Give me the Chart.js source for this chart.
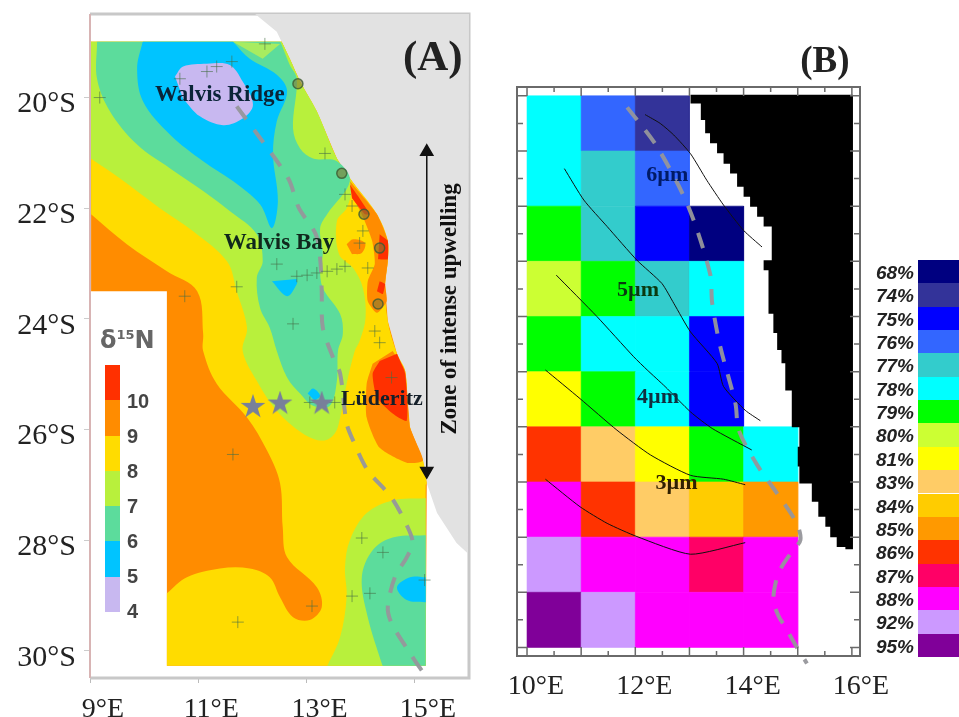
<!DOCTYPE html>
<html>
<head>
<meta charset="utf-8">
<title>Benguela maps</title>
<script src="https://cdn.jsdelivr.net/npm/chart.js@4"></script>
<style>
    body { margin: 0; background: #fff; }
    canvas { position: absolute; left: 0; top: 0; filter: blur(0.4px); }
    .bar { position: absolute; left: 105px; top: 365px; width: 15px; height: 247px; filter: blur(0.7px); }
    .barLabel { position: absolute; left: 127px; width: 30px; font: 700 20px 'Liberation Sans'; color: #444; line-height: 20px; filter: blur(0.4px); }
    .delta { position: absolute; left: 100px; top: 326px; font: 700 24px 'DejaVu Sans'; color: #666; filter: blur(0.5px); }
    .delta sup { font-size: 13px; vertical-align: 9px; line-height: 0; }
    .row { position: absolute; left: 860px; width: 99px; height: 23.35px; }
    .row span { position: absolute; right: 45px; top: 1px; font: italic 700 19px 'Liberation Sans'; color: #222; line-height: 23px; }
    .row i { position: absolute; left: 58px; right: 0; top: 0; bottom: 0; }
</style>
</head>
<body>
<canvas id="mapA" width="959" height="717"></canvas>
<canvas id="mapB" width="959" height="717"></canvas>
<div class="delta" id="delta">&delta;<sup>15</sup>N</div>
<div class="bar" id="bar"></div>

<script>
// panel A: contour polygons as [lon, lat]; near-duplicate points keep the domain corners sharp when smoothed
const coastA = [[12.54,-18.99],[12.69,-19.30],[12.88,-19.71],[13.19,-20.25],[13.56,-21.10],[13.80,-21.46],[14.30,-22.11],[14.50,-22.59],[14.50,-22.96],[14.45,-23.37],[14.50,-24.04],[14.67,-24.63],[14.82,-24.94],[14.91,-25.96],[15.15,-26.56],[15.22,-26.97]]
const landA = [[12.05,-18.49],[12.45,-18.81],...coastA.slice(1),[15.41,-27.51],[15.77,-28.05],[15.98,-28.24],[16,-18.49]]
const orangeBase = [[9.02,-18.99],...coastA,[15.20,-30.27],[10.42,-30.27],[10.42,-23.50],[9.02,-23.50]]
const yellowEdge = [[10.42,-28.96],[10.79,-28.67],[11.40,-28.51],[11.95,-28.51],[12.32,-28.67],[12.51,-29.03],[12.75,-29.39],[13.06,-29.44],[13.28,-29.21],[13.19,-28.85],[12.64,-28.31],[12.56,-27.77],[12.51,-26.97],[12.27,-26.38],[11.90,-25.78],[11.34,-25.17],[11.09,-24.58],[11.09,-24.27],[10.98,-23.50],[10.42,-23.14],[9.68,-22.65],[9.02,-22.11]]
const yellowBase = [[9.02,-19.00],[9.02,-18.99],[9.03,-18.99],[12.53,-18.99],...coastA,[15.22,-26.98],[15.20,-27.00],[15.20,-30.26],[15.20,-30.27],[15.19,-30.27],[10.43,-30.27],[10.42,-30.27],[10.42,-30.26],[10.42,-28.97],...yellowEdge,[9.02,-22.10]]
const yellowSliver = [[13.19,-20.31],[13.38,-20.85],[13.21,-20.83],[13.10,-20.49]]
const lime = [[9.02,-19.00],[9.02,-18.99],[9.03,-18.99],[12.53,-18.99],[12.54,-18.99],[12.69,-19.30],[12.88,-19.71],[13.19,-20.25],[13.56,-21.10],[13.80,-21.46],[13.84,-21.64],[13.74,-22.00],[13.56,-22.23],[13.60,-22.83],[13.86,-23.08],[14.04,-23.44],[14.09,-23.98],[13.98,-24.40],[13.89,-24.58],[13.74,-25.17],[13.62,-25.78],[13.52,-26.07],[13.30,-26.20],[12.93,-26.07],[12.45,-25.66],[12.08,-25.12],[11.82,-24.58],[11.90,-24.16],[11.71,-23.50],[11.53,-22.96],[10.90,-22.41],[10.29,-22.00],[9.55,-21.46],[9.03,-21.11],[9.02,-21.10],[9.02,-21.09]]
const limeSouth = [[15.20,-27.25],[15.20,-27.24],[15.19,-27.24],[14.59,-27.28],[14.11,-27.51],[13.80,-28.00],[13.71,-28.49],[13.74,-29.03],[13.62,-29.75],[13.39,-30.26],[13.38,-30.27],[13.39,-30.27],[15.19,-30.27],[15.20,-30.27],[15.20,-30.26]]
const limePatch = [[11.64,-18.99],[12.19,-19.30],[12.51,-19.03]]
const green = [[9.12,-18.99],[9.13,-18.99],[9.13,-19.00],[9.13,-19.66],[9.37,-20.25],[9.87,-20.85],[10.48,-21.28],[11.09,-21.69],[11.58,-22.05],[12.08,-22.47],[12.19,-22.96],[12.08,-23.26],[12.14,-23.80],[12.32,-24.16],[12.45,-24.58],[12.64,-25.06],[12.88,-25.35],[13.12,-25.57],[13.43,-25.57],[13.56,-25.12],[13.58,-24.58],[13.67,-24.27],[13.62,-23.91],[13.30,-23.44],[13.25,-23.08],[13.30,-22.83],[13.25,-22.36],[13.38,-22.11],[13.80,-21.51],[13.56,-21.15],[13.12,-21.10],[12.88,-20.92],[12.75,-20.56],[12.82,-19.66],[12.69,-19.41],[12.52,-19.00],[12.51,-18.99],[12.50,-18.99]]
const greenSouth = [[15.20,-27.92],[15.20,-27.91],[15.19,-27.91],[14.59,-27.95],[14.22,-28.18],[14.02,-28.67],[14.13,-29.39],[14.40,-30.26],[14.41,-30.27],[14.42,-30.27],[15.19,-30.27],[15.20,-30.27],[15.20,-30.26]]
const blue = [[9.97,-18.99],[9.98,-18.99],[9.97,-19.00],[9.87,-19.48],[9.98,-20.07],[10.48,-20.67],[11.09,-21.15],[11.64,-21.51],[12.14,-21.93],[12.36,-22.36],[12.47,-21.87],[12.38,-21.03],[12.45,-20.43],[12.64,-19.89],[12.45,-19.59],[11.95,-19.30],[11.65,-19.00],[11.64,-18.99],[11.63,-18.99]]
const blueBay = [[12.36,-23.32],[12.64,-23.59],[12.82,-23.37],[12.82,-23.28]]
const blueLuderitz = [[13.02,-25.35],[13.12,-25.26],[13.25,-25.39],[13.15,-25.48]]
const blueSouth = [[15.20,-28.68],[15.20,-28.67],[15.19,-28.67],[14.91,-28.67],[14.67,-28.85],[14.85,-29.08],[15.19,-29.12],[15.20,-29.12],[15.20,-29.11]]
const lavender = [[10.57,-19.62],[10.72,-19.44],[11.16,-19.39],[11.58,-19.41],[11.82,-19.71],[12.01,-20.13],[11.82,-20.38],[11.46,-20.50],[11.03,-20.34],[10.72,-20.02]]
const orangeNorth = [[13.80,-21.51],[14.30,-22.11],[14.50,-22.59],[14.50,-22.96],[14.45,-23.37],[14.48,-23.68],[14.30,-23.89],[14.13,-23.68],[14.13,-23.32],[14.26,-23.01],[14.21,-22.59],[14.02,-22.11],[13.86,-21.82]]
const orangeBlob = [[13.74,-22.65],[13.86,-22.56],[14.08,-22.63],[14.02,-22.81],[13.84,-22.83]]
const orangeSouth = [[14.59,-24.58],[14.82,-24.94],[14.91,-25.96],[15.15,-26.56],[14.85,-26.60],[14.35,-26.33],[14.11,-25.78],[14.11,-25.17],[14.22,-24.81]]
const redSouth = [[14.67,-24.63],[14.82,-24.99],[14.85,-25.84],[14.59,-25.71],[14.30,-25.42],[14.22,-24.99],[14.35,-24.76]]
const redNorth1 = [[13.80,-21.57],[13.95,-21.78],[14.17,-22.11],[14.08,-22.11],[13.84,-21.82]]
const redNorth2 = [[14.35,-22.47],[14.50,-22.59],[14.50,-22.92],[14.32,-22.92]]
const redNorth3 = [[14.35,-23.32],[14.45,-23.37],[14.41,-23.55],[14.30,-23.50]]
const shelfA = [[11.71,-20.16],[12.08,-20.65],[12.66,-21.46],[12.86,-22.00],[13.17,-22.47],[13.25,-22.90],[13.28,-23.50],[13.30,-24.16],[13.49,-24.70],[13.62,-24.99],[13.74,-25.89],[13.86,-26.20],[14.13,-26.74],[14.57,-27.23],[14.87,-27.77],[14.96,-28.05],[14.85,-28.31],[14.63,-28.67],[14.50,-29.21],[14.57,-29.50],[14.91,-30.04],[15.18,-30.43]]
const samples = [[12.23,-19.03],[9.18,-20.00],[10.66,-19.66],[11.16,-19.53],[11.34,-19.44],[11.62,-19.35],[13.34,-21.01],[13.71,-21.75],[13.84,-21.96],[14.04,-22.41],[13.98,-22.63],[14.13,-23.08],[14.26,-24.22],[14.35,-24.43],[12.45,-23.01],[12.82,-23.23],[13.01,-23.21],[13.19,-23.17],[13.38,-23.14],[13.56,-23.10],[13.71,-23.05],[11.71,-23.42],[10.75,-23.59],[12.75,-24.09],[11.64,-26.45],[14.57,-25.06],[11.73,-29.48],[13.10,-29.19],[13.84,-29.01],[14.17,-28.96],[14.02,-27.96],[14.41,-28.22],[15.18,-28.72],[13.06,-25.51],[13.52,-25.51]]
const circles = [[12.84,-19.75],[13.65,-21.37],[14.06,-22.11],[14.35,-22.72],[14.32,-23.73]]
const stars = [[12.01,-25.59],[12.51,-25.53],[13.28,-25.53]]
const arrowA = [[15.22,-20.98],[15.22,-26.75]]
const xTicksA = [9, 11, 13, 15]
const yTicksA = [-20, -22, -24, -26, -28, -30]
const barValues = [4, 5, 6, 7, 8, 9, 10]
const barColors = ['#c8b8f0', '#00c4ff', '#5cdc9c', '#b8f03c', '#ffdc00', '#ff8c00', '#ff3000']

// panel B: coccolith percentages per 1 degree cell, north to south, from 10E
const cellRows = [
    [78, 76, 74],
    [78, 77, 76],
    [79, 77, 75, 68],
    [80, 79, 77, 78],
    [79, 78, 78, 75],
    [81, 79, 78, 75],
    [86, 83, 81, 79, 78],
    [88, 86, 83, 84, 85],
    [92, 88, 88, 87, 88],
    [95, 92, 88, 88, 88],
]
const percentLabels = [68, 74, 75, 76, 77, 78, 79, 80, 81, 83, 84, 85, 86, 87, 88, 92, 95]
const percentColors = ['#000080', '#333399', '#0000ff', '#3366ff', '#33cccc', '#00ffff', '#00ff00', '#ccff33', '#ffff00', '#ffcc66', '#ffcc00', '#ff9900', '#ff3300', '#ff0066', '#ff00ff', '#cc99ff', '#800099']
const coastLonB = [13.02,13.21,13.29,13.38,13.51,13.63,13.75,13.88,14.00,14.12,14.25,14.37,14.52,14.37,14.46,14.55,14.62,14.70,14.77,14.89,15.03,15.00,15.03,15.26,15.38,15.51,15.60,15.72,15.88]
const coastLatB = [-20.14,-20.44,-20.68,-20.86,-21.04,-21.23,-21.41,-21.65,-21.83,-22.01,-22.19,-22.37,-22.98,-23.16,-23.95,-24.30,-24.61,-24.85,-25.34,-26.01,-26.36,-26.72,-27.03,-27.36,-27.63,-27.81,-28.00,-28.18,-28.22]
const size6 = [[12.18,-20.34],[12.46,-20.50],[12.71,-20.71],[13.02,-21.05],[13.32,-21.53],[13.63,-21.98],[14.00,-22.44],[14.34,-22.74]]
const size5 = [[10.69,-21.32],[11.05,-21.89],[11.48,-22.37],[12.03,-22.98],[12.49,-23.40],[12.71,-23.76],[13.02,-24.28],[13.51,-24.85],[13.63,-25.27],[14.03,-25.70],[14.31,-25.89]]
const size4 = [[10.54,-23.25],[11.29,-24.00],[11.97,-24.73],[12.22,-24.97],[12.55,-25.27],[13.02,-25.73],[13.42,-26.03],[14.15,-26.42]]
const size3 = [[10.34,-24.97],[10.98,-25.49],[11.66,-26.06],[12.28,-26.51],[13.02,-26.88],[13.63,-26.95],[14.03,-27.05]]
const size2 = [[10.34,-26.95],[10.98,-27.45],[11.48,-27.75],[12.03,-27.99],[13.02,-28.31],[14.03,-28.10]]
const shelfB = [[11.85,-20.21],[12.40,-20.92],[12.98,-22.01],[13.38,-23.22],[13.42,-23.76],[13.57,-24.55],[13.85,-25.58],[13.91,-26.06],[14.25,-26.69],[14.62,-27.21],[14.98,-27.75],[15.05,-28.05],[14.89,-28.27],[14.74,-28.48],[14.62,-28.72],[14.55,-29.14],[14.65,-29.44],[14.77,-29.63],[14.98,-29.99],[15.17,-30.29]]
const xLabelsB = [10, 12, 14, 16]
const xMajorB = [10, 11, 12, 13, 14, 15, 16]
const xMinorB = [10.5, 11.5, 12.5, 13.5, 14.5, 15.5]
const yMajorB = [-20, -21, -22, -23, -24, -25, -26, -27, -28, -29, -30]
const yMinorB = [-20.5, -21.5, -22.5, -23.5, -24.5, -25.5, -26.5, -27.5, -28.5, -29.5]

const labelsA = [
    { text: '(A)', lon: 15.33, lat: -19.30, font: '700 43px "Liberation Serif"', color: '#222' },
    { text: 'Walvis Ridge', lon: 11.40, lat: -19.95, font: '700 23px "Liberation Serif"', color: '#0a2438' },
    { text: 'Walvis Bay', lon: 12.49, lat: -22.63, font: '700 23px "Liberation Serif"', color: '#10281c' },
    { text: 'Lüderitz', lon: 14.39, lat: -25.46, font: '700 22px "Liberation Serif"', color: '#15202a' },
    { text: 'Zone of intense upwelling', lon: 15.65, lat: -23.82, font: '700 23px "Liberation Serif"', color: '#111', rotate: -Math.PI / 2 },
]
const labelsB = [
    { text: '(B)', lon: 15.5, lat: -19.39, font: '700 37px "Liberation Serif"', color: '#222' },
    { text: '6µm', lon: 12.59, lat: -21.44, font: '700 22px "Liberation Serif"', color: '#001a66' },
    { text: '5µm', lon: 12.05, lat: -23.52, font: '700 22px "Liberation Serif"', color: '#0a3a10' },
    { text: '4µm', lon: 12.42, lat: -25.46, font: '700 22px "Liberation Serif"', color: '#103040' },
    { text: '3µm', lon: 12.76, lat: -27.02, font: '700 22px "Liberation Serif"', color: '#302000' },
]

const toPts = list => list.map(([x, y]) => ({ x, y }))
const poly = (list, color, tension = 0.35, seam = 0) => ({
    data: toPts(list),
    showLine: true,
    fill: 'shape',
    backgroundColor: color,
    borderColor: color,
    borderWidth: seam,
    pointRadius: 0,
    tension,
})
const dashed = list => ({
    data: toPts(list),
    showLine: true,
    fill: false,
    borderColor: 'rgba(150,150,155,0.95)',
    borderWidth: 4,
    borderDash: [16, 13],
    pointRadius: 0,
    tension: 0.3,
    clip: false,
})
const contour = list => ({
    data: toPts(list),
    showLine: true,
    fill: false,
    borderColor: '#111',
    borderWidth: 1,
    pointRadius: 0,
    tension: 0.2,
})

function starImage() {
    const c = document.createElement('canvas')
    c.width = c.height = 26
    const g = c.getContext('2d')
    g.fillStyle = '#78809a'
    g.beginPath()
    for (let i = 0; i < 10; i++) {
        const r = i % 2 ? 5 : 13
        const a = -Math.PI / 2 + (i * Math.PI) / 5
        g.lineTo(13 + r * Math.cos(a), 13 + r * Math.sin(a))
    }
    g.closePath()
    g.fill()
    return c
}

function drawLabels(chart, labels) {
    const { ctx, scales } = chart
    ctx.save()
    ctx.textAlign = 'center'
    ctx.textBaseline = 'middle'
    labels.forEach(l => {
        ctx.save()
        ctx.translate(scales.x.getPixelForValue(l.lon), scales.y.getPixelForValue(l.lat))
        if (l.rotate) ctx.rotate(l.rotate)
        ctx.font = l.font
        ctx.fillStyle = l.color
        ctx.fillText(l.text, 0, 0)
        ctx.restore()
    })
    ctx.restore()
}

const fixWidth = w => scale => { scale.width = w; scale.paddingTop = scale.paddingBottom = 0 }
const fixHeight = h => scale => { scale.height = h; scale.paddingLeft = scale.paddingRight = 0 }
const setTicks = list => scale => { scale.ticks = list.map(value => ({ value })) }

const commonOptions = {
    responsive: false,
    animation: false,
    events: [],
    plugins: { legend: { display: false }, tooltip: { enabled: false } },
}

// panel A
const datasetsA = [
    poly(landA, '#e2e2e2', 0),
    poly(orangeBase, '#ff8c00', 0),
    poly(yellowBase, '#ffdc00'),
    poly(yellowSliver, '#ffdc00'),
    poly(lime, '#b8f03c'),
    poly(limeSouth, '#b8f03c'),
    poly(green, '#5cdc9c'),
    poly(greenSouth, '#5cdc9c'),
    poly(limePatch, '#a8ec60', 0),
    poly(blue, '#00c4ff'),
    poly(blueBay, '#00c4ff'),
    poly(blueLuderitz, '#00c4ff'),
    poly(blueSouth, '#00c4ff'),
    poly(lavender, '#c8b8f0'),
    poly(orangeNorth, '#ff8c00', 0.2),
    poly(orangeBlob, '#ff8c00'),
    poly(orangeSouth, '#ff8c00', 0.2),
    poly(redSouth, '#ff3000', 0.2),
    poly(redNorth1, '#ff3000', 0.1),
    poly(redNorth2, '#ff3000', 0.1),
    poly(redNorth3, '#ff3000', 0.1),
    dashed(shelfA),
    {
        data: toPts(samples),
        showLine: false,
        pointStyle: 'cross',
        pointRadius: 6,
        borderColor: 'rgba(70,110,70,0.6)',
        borderWidth: 1,
    },
    {
        data: toPts(circles),
        showLine: false,
        pointRadius: 5,
        backgroundColor: 'rgba(130,120,50,0.6)',
        borderColor: 'rgba(60,90,50,0.8)',
        borderWidth: 1.5,
    },
    {
        data: toPts(stars),
        showLine: false,
        pointStyle: starImage(),
        pointRadius: 13,
    },
    {
        data: toPts(arrowA),
        showLine: true,
        fill: false,
        borderColor: '#111',
        borderWidth: 1.5,
        pointStyle: 'triangle',
        pointRadius: 7,
        rotation: [0, 180],
        backgroundColor: '#111',
        clip: false,
    },
]

new Chart('mapA', {
    type: 'scatter',
    data: { datasets: datasetsA.reverse() },
    options: {
        ...commonOptions,
        layout: { padding: { left: 0, right: 490, top: 12, bottom: 0 } },
        scales: {
            x: {
                type: 'linear', min: 9, max: 16,
                afterBuildTicks: setTicks(xTicksA),
                afterFit: fixHeight(39),
                border: { display: false },
                grid: { drawOnChartArea: false, tickLength: 5, color: '#bbb' },
                ticks: {
                    autoSkip: false, maxRotation: 0, padding: 10, labelOffset: 13, color: '#222',
                    font: { family: 'Liberation Serif', size: 28 },
                    callback: v => v + '°E',
                },
            },
            y: {
                type: 'linear', min: -30.49, max: -18.49,
                afterBuildTicks: setTicks(yTicksA),
                afterFit: fixWidth(90),
                border: { display: false },
                grid: { drawOnChartArea: false, tickLength: 6, color: '#ccc' },
                ticks: {
                    autoSkip: false, padding: 8, labelOffset: 7, color: '#222',
                    font: { family: 'Liberation Serif', size: 30 },
                    callback: v => -v + '°S',
                },
            },
        },
    },
    plugins: [{
        id: 'frameA',
        beforeDatasetsDraw(chart) {
            const { ctx, chartArea: a } = chart
            ctx.save()
            ctx.lineWidth = 3
            ctx.strokeStyle = '#c8c8c8'
            ctx.beginPath()
            ctx.moveTo(a.left, a.bottom)
            ctx.lineTo(a.right, a.bottom)
            ctx.lineTo(a.right, a.top)
            ctx.lineTo(a.left, a.top)
            ctx.stroke()
            ctx.lineWidth = 2
            ctx.strokeStyle = '#d8b4b4'
            ctx.beginPath()
            ctx.moveTo(a.left, a.top)
            ctx.lineTo(a.left, a.bottom)
            ctx.stroke()
            ctx.restore()
        },
        afterDraw(chart) { drawLabels(chart, labelsA) },
    }],
})

// panel B
const colorOf = v => percentColors[percentLabels.indexOf(v)]
const datasetsB = []
cellRows.forEach((row, r) => {
    row.forEach((v, c) => {
        const lon = 10 + c
        const lat = -20 - r
        datasetsB.push(poly([[lon, lat], [lon + 1, lat], [lon + 1, lat - 1], [lon, lat - 1], [lon, lat]], colorOf(v), 0, 0.6))
    })
})
const landB = [[16.02, -19.98]]
coastLonB.forEach((lon, i) => {
    landB.push([lon, i ? coastLatB[i - 1] : -19.98], [lon, coastLatB[i]])
})
landB.push([16.02, -28.22])
datasetsB.push(poly(landB, '#000', 0))
datasetsB.push(dashed(shelfB))
;[size6, size5, size4, size3, size2].forEach(s => datasetsB.push(contour(s)))

function drawTicksB(chart) {
    const { ctx, chartArea: a, scales } = chart
    ctx.save()
    ctx.strokeStyle = '#6a6a6a'
    ctx.lineWidth = 1.5
    const segs = (list, len) => list.forEach(v => {
        const x = scales.x.getPixelForValue(v)
        ctx.moveTo(x, a.top); ctx.lineTo(x, a.top + len)
        ctx.moveTo(x, a.bottom); ctx.lineTo(x, a.bottom - len)
    })
    const segsY = (list, len) => list.forEach(v => {
        const y = scales.y.getPixelForValue(v)
        ctx.moveTo(a.left, y); ctx.lineTo(a.left + len, y)
        ctx.moveTo(a.right, y); ctx.lineTo(a.right - len, y)
    })
    ctx.beginPath()
    segs(xMajorB, 9); segs(xMinorB, 5)
    segsY(yMajorB, 10); segsY(yMinorB, 6)
    ctx.stroke()
    ctx.lineWidth = 2
    ctx.strokeRect(a.left, a.top, a.right - a.left, a.bottom - a.top)
    ctx.restore()
}

new Chart('mapB', {
    type: 'scatter',
    data: { datasets: datasetsB.reverse() },
    options: {
        ...commonOptions,
        layout: { padding: { left: 517, right: 99, top: 87, bottom: 0 } },
        scales: {
            x: {
                type: 'linear', min: 9.815, max: 16.15,
                afterBuildTicks: setTicks(xLabelsB),
                afterFit: fixHeight(61),
                border: { display: false },
                grid: { display: false },
                ticks: {
                    autoSkip: false, maxRotation: 0, padding: 6, labelOffset: 9, color: '#222',
                    font: { family: 'Liberation Serif', size: 28 },
                    callback: v => v + '°E',
                },
            },
            y: { type: 'linear', display: false, min: -30.155, max: -19.84 },
        },
    },
    plugins: [{
        id: 'frameB',
        afterDatasetsDraw: drawTicksB,
        afterDraw(chart) { drawLabels(chart, labelsB) },
    }],
})

// legends
const stops = barValues.map((v, i) => {
    const p = 100 * i / barValues.length
    const q = 100 * (i + 1) / barValues.length
    return `${barColors[i]} ${p}%, ${barColors[i]} ${q}%`
})
document.getElementById('bar').style.background = 'linear-gradient(to top, ' + stops.join(', ') + ')'
barValues.forEach((v, i) => {
    const d = document.createElement('div')
    d.className = 'barLabel'
    d.textContent = v
    d.style.top = (601 - i * 35) + 'px'
    document.body.appendChild(d)
})
percentLabels.forEach((v, i) => {
    const d = document.createElement('div')
    d.className = 'row'
    d.style.top = 260 + i * 23.35 + 'px'
    d.innerHTML = `<span>${v}%</span><i style="background:${percentColors[i]}"></i>`
    document.body.appendChild(d)
})
</script>
</body>
</html>
